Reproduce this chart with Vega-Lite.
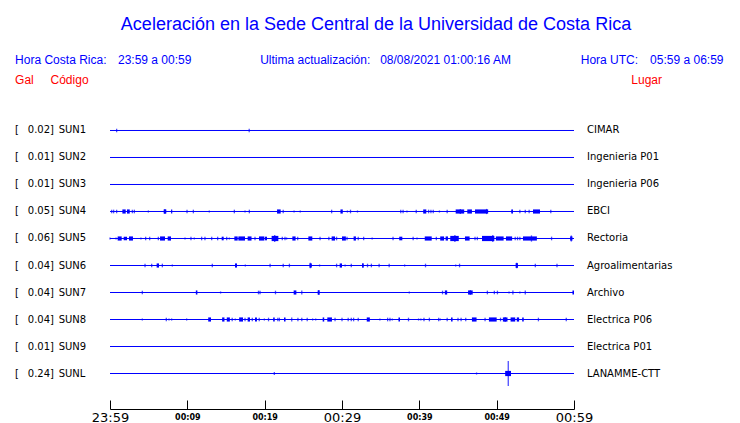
{
  "$schema": "https://vega.github.io/schema/vega-lite/v6.json",
  "width": 464,
  "height": 306,
  "autosize": {"type": "none"},
  "padding": {"left": 110, "top": 103, "right": 166, "bottom": 14},
  "background": "white",
  "config": {"view": {"stroke": null}, "axisY": {"disable": true}},
  "title": {"text": "Aceleración en la Sede Central de la Universidad de Costa Rica", "color": "#0000FF", "font": "Liberation Sans", "fontSize": 18, "fontWeight": "normal", "anchor": "middle", "frame": "group", "dx": 34, "offset": 20},
  "datasets": {
    "stations": [
      {"s": "SUN1", "n": 1, "peak": 0.02, "lugar": "CIMAR"},
      {"s": "SUN2", "n": 2, "peak": 0.01, "lugar": "Ingenieria P01"},
      {"s": "SUN3", "n": 3, "peak": 0.01, "lugar": "Ingenieria P06"},
      {"s": "SUN4", "n": 4, "peak": 0.05, "lugar": "EBCI"},
      {"s": "SUN5", "n": 5, "peak": 0.06, "lugar": "Rectoria"},
      {"s": "SUN6", "n": 6, "peak": 0.04, "lugar": "Agroalimentarias"},
      {"s": "SUN7", "n": 7, "peak": 0.04, "lugar": "Archivo"},
      {"s": "SUN8", "n": 8, "peak": 0.04, "lugar": "Electrica P06"},
      {"s": "SUN9", "n": 9, "peak": 0.01, "lugar": "Electrica P01"},
      {"s": "SUNL", "n": 10, "peak": 0.24, "lugar": "LANAMME-CTT"}
    ],
    "ticks": [
      {"s": "SUN1", "t": 0.86, "a": 0.035}, {"s": "SUN1", "t": 18.0, "a": 0.035},
      {"s": "SUN4", "t": 0.22, "a": 0.035}, {"s": "SUN4", "t": 0.47, "a": 0.035}, {"s": "SUN4", "t": 0.86, "a": 0.035}, {"s": "SUN4", "t": 2.89, "a": 0.035}, {"s": "SUN4", "t": 3.15, "a": 0.035}, {"s": "SUN4", "t": 4.96, "a": 0.02}, {"s": "SUN4", "t": 7.1, "a": 0.05}, {"s": "SUN4", "t": 9.96, "a": 0.035}, {"s": "SUN4", "t": 10.78, "a": 0.035}, {"s": "SUN4", "t": 12.84, "a": 0.02}, {"s": "SUN4", "t": 16.08, "a": 0.035}, {"s": "SUN4", "t": 17.46, "a": 0.02}, {"s": "SUN4", "t": 18.02, "a": 0.035}, {"s": "SUN4", "t": 22.4, "a": 0.035}, {"s": "SUN4", "t": 23.8, "a": 0.02}, {"s": "SUN4", "t": 24.6, "a": 0.02}, {"s": "SUN4", "t": 28.66, "a": 0.035}, {"s": "SUN4", "t": 30.7, "a": 0.02}, {"s": "SUN4", "t": 31.1, "a": 0.035}, {"s": "SUN4", "t": 32.0, "a": 0.02}, {"s": "SUN4", "t": 37.6, "a": 0.035}, {"s": "SUN4", "t": 37.9, "a": 0.035}, {"s": "SUN4", "t": 38.4, "a": 0.02}, {"s": "SUN4", "t": 39.6, "a": 0.035}, {"s": "SUN4", "t": 41.2, "a": 0.035}, {"s": "SUN4", "t": 41.5, "a": 0.035}, {"s": "SUN4", "t": 41.8, "a": 0.035}, {"s": "SUN4", "t": 42.6, "a": 0.02}, {"s": "SUN4", "t": 43.6, "a": 0.035}, {"s": "SUN4", "t": 45.3, "a": 0.05}, {"s": "SUN4", "t": 48.7, "a": 0.05}, {"s": "SUN4", "t": 52.0, "a": 0.035}, {"s": "SUN4", "t": 53.0, "a": 0.035}, {"s": "SUN4", "t": 53.7, "a": 0.035}, {"s": "SUN4", "t": 54.2, "a": 0.035}, {"s": "SUN4", "t": 57.0, "a": 0.035},
      {"s": "SUN5", "t": 0.0, "a": 0.02}, {"s": "SUN5", "t": 0.78, "a": 0.02}, {"s": "SUN5", "t": 4.0, "a": 0.02}, {"s": "SUN5", "t": 4.61, "a": 0.035}, {"s": "SUN5", "t": 5.13, "a": 0.035}, {"s": "SUN5", "t": 6.25, "a": 0.035}, {"s": "SUN5", "t": 9.7, "a": 0.02}, {"s": "SUN5", "t": 10.47, "a": 0.035}, {"s": "SUN5", "t": 10.9, "a": 0.02}, {"s": "SUN5", "t": 11.85, "a": 0.035}, {"s": "SUN5", "t": 12.28, "a": 0.035}, {"s": "SUN5", "t": 13.15, "a": 0.035}, {"s": "SUN5", "t": 13.92, "a": 0.035}, {"s": "SUN5", "t": 15.09, "a": 0.035}, {"s": "SUN5", "t": 15.43, "a": 0.02}, {"s": "SUN5", "t": 18.75, "a": 0.035}, {"s": "SUN5", "t": 21.3, "a": 0.065}, {"s": "SUN5", "t": 22.28, "a": 0.035}, {"s": "SUN5", "t": 22.63, "a": 0.035}, {"s": "SUN5", "t": 22.84, "a": 0.02}, {"s": "SUN5", "t": 24.27, "a": 0.035}, {"s": "SUN5", "t": 27.16, "a": 0.035}, {"s": "SUN5", "t": 28.3, "a": 0.035}, {"s": "SUN5", "t": 29.3, "a": 0.035}, {"s": "SUN5", "t": 30.65, "a": 0.035}, {"s": "SUN5", "t": 32.1, "a": 0.035}, {"s": "SUN5", "t": 32.8, "a": 0.035}, {"s": "SUN5", "t": 33.9, "a": 0.02}, {"s": "SUN5", "t": 36.6, "a": 0.035}, {"s": "SUN5", "t": 39.2, "a": 0.035}, {"s": "SUN5", "t": 39.7, "a": 0.02}, {"s": "SUN5", "t": 42.2, "a": 0.035}, {"s": "SUN5", "t": 44.6, "a": 0.065}, {"s": "SUN5", "t": 47.2, "a": 0.035}, {"s": "SUN5", "t": 47.5, "a": 0.035}, {"s": "SUN5", "t": 49.5, "a": 0.065}, {"s": "SUN5", "t": 52.4, "a": 0.035}, {"s": "SUN5", "t": 52.7, "a": 0.035}, {"s": "SUN5", "t": 53.0, "a": 0.035}, {"s": "SUN5", "t": 54.5, "a": 0.06}, {"s": "SUN5", "t": 57.1, "a": 0.035}, {"s": "SUN5", "t": 59.65, "a": 0.06},
      {"s": "SUN6", "t": 4.53, "a": 0.035}, {"s": "SUN6", "t": 5.39, "a": 0.035}, {"s": "SUN6", "t": 6.77, "a": 0.035}, {"s": "SUN6", "t": 8.06, "a": 0.02}, {"s": "SUN6", "t": 13.23, "a": 0.035}, {"s": "SUN6", "t": 17.5, "a": 0.02}, {"s": "SUN6", "t": 20.7, "a": 0.035}, {"s": "SUN6", "t": 22.4, "a": 0.035}, {"s": "SUN6", "t": 23.2, "a": 0.035}, {"s": "SUN6", "t": 25.9, "a": 0.055}, {"s": "SUN6", "t": 27.1, "a": 0.02}, {"s": "SUN6", "t": 29.3, "a": 0.035}, {"s": "SUN6", "t": 30.4, "a": 0.02}, {"s": "SUN6", "t": 31.2, "a": 0.035}, {"s": "SUN6", "t": 32.7, "a": 0.045}, {"s": "SUN6", "t": 33.3, "a": 0.035}, {"s": "SUN6", "t": 33.8, "a": 0.035}, {"s": "SUN6", "t": 34.8, "a": 0.035}, {"s": "SUN6", "t": 36.1, "a": 0.035}, {"s": "SUN6", "t": 38.1, "a": 0.02}, {"s": "SUN6", "t": 40.8, "a": 0.035}, {"s": "SUN6", "t": 44.7, "a": 0.02}, {"s": "SUN6", "t": 45.2, "a": 0.035}, {"s": "SUN6", "t": 52.6, "a": 0.055}, {"s": "SUN6", "t": 55.0, "a": 0.035}, {"s": "SUN6", "t": 57.8, "a": 0.035},
      {"s": "SUN7", "t": 4.18, "a": 0.035}, {"s": "SUN7", "t": 14.3, "a": 0.02}, {"s": "SUN7", "t": 19.2, "a": 0.035}, {"s": "SUN7", "t": 19.4, "a": 0.035}, {"s": "SUN7", "t": 21.4, "a": 0.035}, {"s": "SUN7", "t": 24.8, "a": 0.04}, {"s": "SUN7", "t": 27.0, "a": 0.05}, {"s": "SUN7", "t": 38.7, "a": 0.02}, {"s": "SUN7", "t": 43.0, "a": 0.035}, {"s": "SUN7", "t": 46.6, "a": 0.045}, {"s": "SUN7", "t": 48.8, "a": 0.035}, {"s": "SUN7", "t": 49.7, "a": 0.035}, {"s": "SUN7", "t": 50.1, "a": 0.035}, {"s": "SUN7", "t": 51.6, "a": 0.02}, {"s": "SUN7", "t": 52.1, "a": 0.04}, {"s": "SUN7", "t": 53.0, "a": 0.02}, {"s": "SUN7", "t": 53.7, "a": 0.04},
      {"s": "SUN8", "t": 4.18, "a": 0.02}, {"s": "SUN8", "t": 7.28, "a": 0.035}, {"s": "SUN8", "t": 7.63, "a": 0.02}, {"s": "SUN8", "t": 7.97, "a": 0.02}, {"s": "SUN8", "t": 9.91, "a": 0.02}, {"s": "SUN8", "t": 15.8, "a": 0.035}, {"s": "SUN8", "t": 16.2, "a": 0.02}, {"s": "SUN8", "t": 17.46, "a": 0.035}, {"s": "SUN8", "t": 18.4, "a": 0.035}, {"s": "SUN8", "t": 19.3, "a": 0.035}, {"s": "SUN8", "t": 19.96, "a": 0.02}, {"s": "SUN8", "t": 20.5, "a": 0.035}, {"s": "SUN8", "t": 21.7, "a": 0.035}, {"s": "SUN8", "t": 21.9, "a": 0.035}, {"s": "SUN8", "t": 23.5, "a": 0.04}, {"s": "SUN8", "t": 24.3, "a": 0.035}, {"s": "SUN8", "t": 24.8, "a": 0.035}, {"s": "SUN8", "t": 25.5, "a": 0.035}, {"s": "SUN8", "t": 26.2, "a": 0.02}, {"s": "SUN8", "t": 26.6, "a": 0.02}, {"s": "SUN8", "t": 29.1, "a": 0.035}, {"s": "SUN8", "t": 30.0, "a": 0.035}, {"s": "SUN8", "t": 30.8, "a": 0.035}, {"s": "SUN8", "t": 31.2, "a": 0.035}, {"s": "SUN8", "t": 31.5, "a": 0.035}, {"s": "SUN8", "t": 32.1, "a": 0.035}, {"s": "SUN8", "t": 34.9, "a": 0.02}, {"s": "SUN8", "t": 35.9, "a": 0.035}, {"s": "SUN8", "t": 36.2, "a": 0.035}, {"s": "SUN8", "t": 36.5, "a": 0.02}, {"s": "SUN8", "t": 38.6, "a": 0.035}, {"s": "SUN8", "t": 39.9, "a": 0.02}, {"s": "SUN8", "t": 40.2, "a": 0.02}, {"s": "SUN8", "t": 40.6, "a": 0.035}, {"s": "SUN8", "t": 41.3, "a": 0.035}, {"s": "SUN8", "t": 42.5, "a": 0.035}, {"s": "SUN8", "t": 42.7, "a": 0.02}, {"s": "SUN8", "t": 43.6, "a": 0.035}, {"s": "SUN8", "t": 45.0, "a": 0.035}, {"s": "SUN8", "t": 45.4, "a": 0.035}, {"s": "SUN8", "t": 46.0, "a": 0.035}, {"s": "SUN8", "t": 48.5, "a": 0.035}, {"s": "SUN8", "t": 50.5, "a": 0.035}, {"s": "SUN8", "t": 51.1, "a": 0.05}, {"s": "SUN8", "t": 55.4, "a": 0.035}, {"s": "SUN8", "t": 59.0, "a": 0.035},
      {"s": "SUNL", "t": 21.25, "a": 0.03}, {"s": "SUNL", "t": 47.4, "a": 0.02}, {"s": "SUNL", "t": 51.5, "a": 0.24}
    ],
    "bursts": [
      {"s": "SUN4", "t0": 1.6, "t1": 2.03, "a": 0.04}, {"s": "SUN4", "t0": 2.2, "t1": 2.55, "a": 0.04}, {"s": "SUN4", "t0": 6.94, "t1": 7.28, "a": 0.04}, {"s": "SUN4", "t0": 7.9, "t1": 8.05, "a": 0.04}, {"s": "SUN4", "t0": 21.6, "t1": 22.07, "a": 0.04}, {"s": "SUN4", "t0": 29.8, "t1": 30.1, "a": 0.04}, {"s": "SUN4", "t0": 40.5, "t1": 40.9, "a": 0.04}, {"s": "SUN4", "t0": 44.7, "t1": 45.8, "a": 0.04}, {"s": "SUN4", "t0": 46.2, "t1": 46.8, "a": 0.04}, {"s": "SUN4", "t0": 47.2, "t1": 48.9, "a": 0.04}, {"s": "SUN4", "t0": 51.9, "t1": 52.1, "a": 0.04}, {"s": "SUN4", "t0": 54.7, "t1": 55.6, "a": 0.04},
      {"s": "SUN5", "t0": 0.99, "t1": 1.51, "a": 0.04}, {"s": "SUN5", "t0": 1.77, "t1": 2.2, "a": 0.035}, {"s": "SUN5", "t0": 2.46, "t1": 2.97, "a": 0.04}, {"s": "SUN5", "t0": 6.47, "t1": 7.11, "a": 0.04}, {"s": "SUN5", "t0": 7.46, "t1": 7.89, "a": 0.04}, {"s": "SUN5", "t0": 14.44, "t1": 14.7, "a": 0.035}, {"s": "SUN5", "t0": 16.08, "t1": 16.51, "a": 0.04}, {"s": "SUN5", "t0": 16.6, "t1": 17.46, "a": 0.04}, {"s": "SUN5", "t0": 17.8, "t1": 18.3, "a": 0.04}, {"s": "SUN5", "t0": 19.27, "t1": 19.96, "a": 0.04}, {"s": "SUN5", "t0": 20.04, "t1": 20.3, "a": 0.035}, {"s": "SUN5", "t0": 20.9, "t1": 21.77, "a": 0.05}, {"s": "SUN5", "t0": 23.58, "t1": 24.0, "a": 0.04}, {"s": "SUN5", "t0": 25.65, "t1": 26.16, "a": 0.04}, {"s": "SUN5", "t0": 28.66, "t1": 29.1, "a": 0.04}, {"s": "SUN5", "t0": 30.0, "t1": 30.5, "a": 0.04}, {"s": "SUN5", "t0": 31.5, "t1": 31.8, "a": 0.04}, {"s": "SUN5", "t0": 37.4, "t1": 37.8, "a": 0.035}, {"s": "SUN5", "t0": 40.7, "t1": 41.6, "a": 0.04}, {"s": "SUN5", "t0": 42.7, "t1": 43.2, "a": 0.04}, {"s": "SUN5", "t0": 43.4, "t1": 43.7, "a": 0.04}, {"s": "SUN5", "t0": 44.0, "t1": 45.1, "a": 0.05}, {"s": "SUN5", "t0": 45.9, "t1": 46.5, "a": 0.04}, {"s": "SUN5", "t0": 48.1, "t1": 49.7, "a": 0.05}, {"s": "SUN5", "t0": 49.9, "t1": 50.9, "a": 0.04}, {"s": "SUN5", "t0": 51.2, "t1": 52.0, "a": 0.04}, {"s": "SUN5", "t0": 53.4, "t1": 55.2, "a": 0.04}, {"s": "SUN5", "t0": 59.5, "t1": 59.8, "a": 0.04},
      {"s": "SUN6", "t0": 6.03, "t1": 6.34, "a": 0.04}, {"s": "SUN6", "t0": 16.16, "t1": 16.42, "a": 0.04}, {"s": "SUN6", "t0": 25.8, "t1": 26.1, "a": 0.04}, {"s": "SUN6", "t0": 29.7, "t1": 30.0, "a": 0.04}, {"s": "SUN6", "t0": 32.6, "t1": 32.8, "a": 0.04}, {"s": "SUN6", "t0": 52.45, "t1": 52.75, "a": 0.045},
      {"s": "SUN7", "t0": 11.1, "t1": 11.3, "a": 0.04}, {"s": "SUN7", "t0": 23.75, "t1": 24.1, "a": 0.04}, {"s": "SUN7", "t0": 26.85, "t1": 27.1, "a": 0.04}, {"s": "SUN7", "t0": 43.3, "t1": 43.6, "a": 0.04}, {"s": "SUN7", "t0": 46.3, "t1": 46.9, "a": 0.04}, {"s": "SUN7", "t0": 59.8, "t1": 60.0, "a": 0.04},
      {"s": "SUN8", "t0": 12.7, "t1": 13.06, "a": 0.04}, {"s": "SUN8", "t0": 14.5, "t1": 14.8, "a": 0.04}, {"s": "SUN8", "t0": 15.1, "t1": 15.5, "a": 0.04}, {"s": "SUN8", "t0": 16.7, "t1": 17.2, "a": 0.04}, {"s": "SUN8", "t0": 17.8, "t1": 18.1, "a": 0.04}, {"s": "SUN8", "t0": 18.75, "t1": 19.0, "a": 0.04}, {"s": "SUN8", "t0": 21.1, "t1": 21.3, "a": 0.04}, {"s": "SUN8", "t0": 22.5, "t1": 22.7, "a": 0.04}, {"s": "SUN8", "t0": 27.5, "t1": 27.7, "a": 0.04}, {"s": "SUN8", "t0": 28.1, "t1": 28.7, "a": 0.04}, {"s": "SUN8", "t0": 33.2, "t1": 33.6, "a": 0.04}, {"s": "SUN8", "t0": 37.3, "t1": 37.5, "a": 0.04}, {"s": "SUN8", "t0": 44.1, "t1": 44.3, "a": 0.04}, {"s": "SUN8", "t0": 46.8, "t1": 47.4, "a": 0.04}, {"s": "SUN8", "t0": 49.0, "t1": 50.0, "a": 0.04}, {"s": "SUN8", "t0": 50.8, "t1": 51.4, "a": 0.04}, {"s": "SUN8", "t0": 51.8, "t1": 52.4, "a": 0.04}, {"s": "SUN8", "t0": 52.6, "t1": 52.9, "a": 0.04}, {"s": "SUN8", "t0": 53.3, "t1": 53.5, "a": 0.04},
      {"s": "SUNL", "t0": 51.1, "t1": 51.85, "a": 0.05}
    ]
  },
  "layer": [
    {
      "data": {"name": "stations"},
      "mark": {"type": "rule", "color": "#0000FF", "strokeWidth": 1},
      "encoding": {
        "x": {"datum": 0, "type": "quantitative", "scale": {"domain": [0, 60], "nice": false, "zero": false, "padding": 0},
          "axis": {"values": [0, 5, 10, 15, 20, 25, 30, 35, 40, 45, 50, 55, 60], "title": null, "grid": false,
            "labelExpr": "datum.value == 0 ? '23:59' : (datum.value % 10 == 0 ? '00:' + format(datum.value - 1, '02d') : '')",
            "labelFont": "DejaVu Sans", "labelColor": "black",
            "labelFontSize": {"condition": {"test": "datum.value % 30 == 0", "value": 13}, "value": 8},
            "labelFontWeight": {"condition": {"test": "datum.value % 30 == 0", "value": "normal"}, "value": "bold"},
            "labelPadding": {"condition": {"test": "datum.value % 30 == 0", "value": 11}, "value": 13},
            "labelFlush": false, "labelOverlap": false, "labelBound": false, "labelBaseline": "top",
            "tickSize": -9, "tickColor": "black", "tickWidth": 1, "domainColor": "black", "domainWidth": 1}},
        "x2": {"datum": 60},
        "y": {"field": "n", "type": "quantitative", "scale": {"domain": [-0.0185, 11.3148], "reverse": true, "nice": false, "zero": false, "padding": 0}, "axis": null}
      }
    },
    {
      "data": {"name": "bursts"},
      "transform": [{"lookup": "s", "from": {"data": {"name": "stations"}, "key": "s", "fields": ["n"]}}],
      "mark": {"type": "bar", "orient": "horizontal", "color": "#0000FF"},
      "encoding": {
        "x": {"field": "t0", "type": "quantitative"},
        "x2": {"field": "t1"},
        "y": {"field": "n", "type": "quantitative", "axis": null},
        "size": {"field": "a", "type": "quantitative", "scale": {"domain": [0, 0.25], "range": [0, 26], "zero": true}, "legend": null}
      }
    },
    {
      "data": {"name": "ticks"},
      "transform": [{"lookup": "s", "from": {"data": {"name": "stations"}, "key": "s", "fields": ["n"]}}],
      "mark": {"type": "tick", "orient": "vertical", "thickness": 1.3, "color": "#0000FF"},
      "encoding": {
        "x": {"field": "t", "type": "quantitative"},
        "y": {"field": "n", "type": "quantitative", "axis": null},
        "size": {"field": "a", "type": "quantitative", "legend": null}
      }
    },
    {
      "data": {"name": "stations"},
      "mark": {"type": "text", "text": "[", "align": "left", "baseline": "middle", "font": "DejaVu Sans", "fontSize": 10, "color": "black"},
      "encoding": {"x": {"datum": -12.285}, "y": {"field": "n", "type": "quantitative", "axis": null}}
    },
    {
      "data": {"name": "stations"},
      "mark": {"type": "text", "align": "right", "baseline": "middle", "font": "DejaVu Sans", "fontSize": 10, "color": "black"},
      "encoding": {"x": {"datum": -7.746}, "y": {"field": "n", "type": "quantitative", "axis": null}, "text": {"field": "peak", "type": "quantitative", "format": ".2f"}}
    },
    {
      "data": {"name": "stations"},
      "mark": {"type": "text", "text": "]", "align": "left", "baseline": "middle", "font": "DejaVu Sans", "fontSize": 10, "color": "black"},
      "encoding": {"x": {"datum": -7.746}, "y": {"field": "n", "type": "quantitative", "axis": null}}
    },
    {
      "data": {"name": "stations"},
      "mark": {"type": "text", "align": "left", "baseline": "middle", "font": "DejaVu Sans", "fontSize": 10, "color": "black"},
      "encoding": {"x": {"datum": -6.634}, "y": {"field": "n", "type": "quantitative", "axis": null}, "text": {"field": "s"}}
    },
    {
      "data": {"name": "stations"},
      "mark": {"type": "text", "align": "left", "baseline": "middle", "font": "DejaVu Sans", "fontSize": 10, "color": "black"},
      "encoding": {"x": {"datum": 61.68}, "y": {"field": "n", "type": "quantitative", "axis": null}, "text": {"field": "lugar"}}
    },
    {
      "data": {"values": [{"txt": "Hora Costa Rica:"}]},
      "mark": {"type": "text", "align": "left", "baseline": "middle", "font": "Liberation Sans", "fontSize": 12, "color": "#0000FF"},
      "encoding": {"x": {"datum": -12.27}, "y": {"datum": -1.611}, "text": {"field": "txt"}}
    },
    {
      "data": {"values": [{"txt": "23:59 a 00:59"}]},
      "mark": {"type": "text", "align": "left", "baseline": "middle", "font": "Liberation Sans", "fontSize": 12, "color": "#0000FF"},
      "encoding": {"x": {"datum": 1.03}, "y": {"datum": -1.611}, "text": {"field": "txt"}}
    },
    {
      "data": {"values": [{"txt": "Ultima actualización:"}]},
      "mark": {"type": "text", "align": "left", "baseline": "middle", "font": "Liberation Sans", "fontSize": 12, "color": "#0000FF"},
      "encoding": {"x": {"datum": 19.42}, "y": {"datum": -1.611}, "text": {"field": "txt"}}
    },
    {
      "data": {"values": [{"txt": "08/08/2021 01:00:16 AM"}]},
      "mark": {"type": "text", "align": "left", "baseline": "middle", "font": "Liberation Sans", "fontSize": 12, "color": "#0000FF"},
      "encoding": {"x": {"datum": 34.93}, "y": {"datum": -1.611}, "text": {"field": "txt"}}
    },
    {
      "data": {"values": [{"txt": "Hora UTC:"}]},
      "mark": {"type": "text", "align": "left", "baseline": "middle", "font": "Liberation Sans", "fontSize": 12, "color": "#0000FF"},
      "encoding": {"x": {"datum": 60.87}, "y": {"datum": -1.611}, "text": {"field": "txt"}}
    },
    {
      "data": {"values": [{"txt": "05:59 a 06:59"}]},
      "mark": {"type": "text", "align": "left", "baseline": "middle", "font": "Liberation Sans", "fontSize": 12, "color": "#0000FF"},
      "encoding": {"x": {"datum": 69.84}, "y": {"datum": -1.611}, "text": {"field": "txt"}}
    },
    {
      "data": {"values": [{"txt": "Gal"}]},
      "mark": {"type": "text", "align": "left", "baseline": "middle", "font": "Liberation Sans", "fontSize": 12, "color": "#FF0000"},
      "encoding": {"x": {"datum": -12.27}, "y": {"datum": -0.87}, "text": {"field": "txt"}}
    },
    {
      "data": {"values": [{"txt": "Código"}]},
      "mark": {"type": "text", "align": "left", "baseline": "middle", "font": "Liberation Sans", "fontSize": 12, "color": "#FF0000"},
      "encoding": {"x": {"datum": -7.69}, "y": {"datum": -0.87}, "text": {"field": "txt"}}
    },
    {
      "data": {"values": [{"txt": "Lugar"}]},
      "mark": {"type": "text", "align": "left", "baseline": "middle", "font": "Liberation Sans", "fontSize": 12, "color": "#FF0000"},
      "encoding": {"x": {"datum": 67.41}, "y": {"datum": -0.87}, "text": {"field": "txt"}}
    }
  ]
}
